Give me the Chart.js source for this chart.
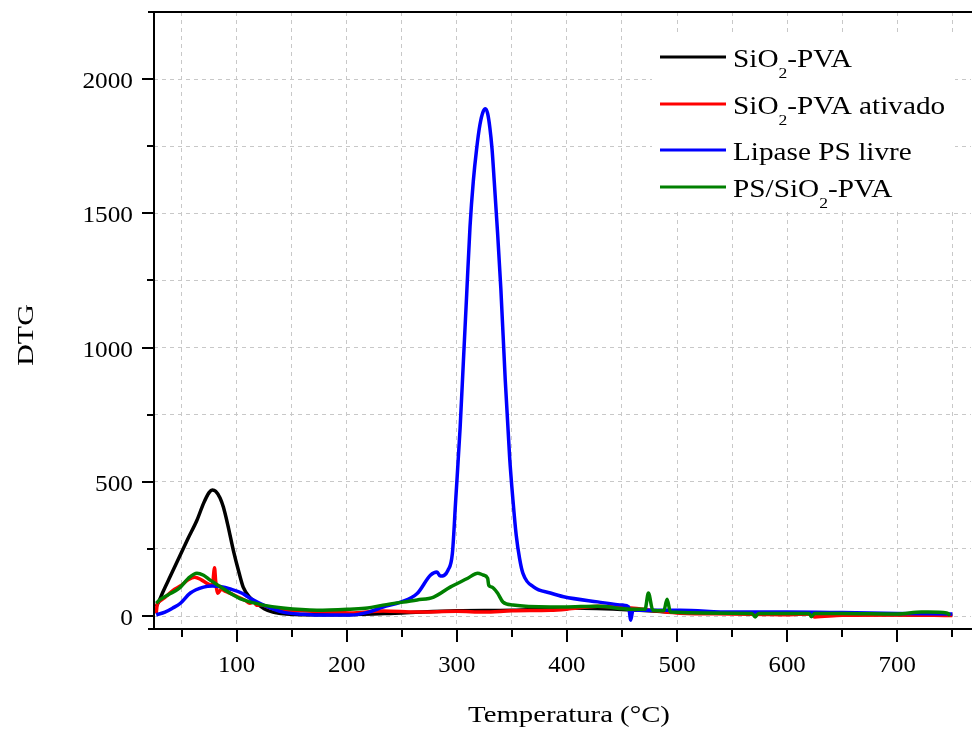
<!DOCTYPE html>
<html>
<head>
<meta charset="utf-8">
<script src="https://cdn.jsdelivr.net/npm/chart.js@4/dist/chart.umd.min.js"></script>
<style>
  html, body { margin: 0; padding: 0; background: #fff; }
  #wrap { width: 972px; height: 729px; }
</style>
</head>
<body>
<div id="wrap"><canvas id="c" width="972" height="729"></canvas></div>
<script>
// temperatures (°C) and DTG values
const tempBlack = [27, 30, 33, 40, 48, 56, 64, 70, 75, 78, 81, 85, 88, 92, 97, 102, 106, 112, 118, 125, 133, 145, 160, 200, 250, 300, 350, 400, 450, 500, 550, 600, 650, 700, 750];
const dtgBlack  = [35, 60, 89, 150, 220, 290, 357, 420, 460, 470, 465, 440, 406, 340, 246, 165, 108, 70, 48, 28, 15, 8, 5, 5, 12, 20, 22, 30, 25, 15, 12, 10, 7, 5, 3];

const tempRed = [27, 28, 30, 35, 42, 50, 56, 62, 68, 74, 78, 80, 81, 83, 86, 90, 96, 102, 108, 112, 116, 118, 122, 130, 142, 160, 203, 233, 264, 300, 325, 350, 385, 400, 428, 458, 480, 503, 549, 580, 600, 620, 625, 650, 700, 750];
const dtgRed  = [10, 45, 55, 70, 95, 115, 135, 145, 135, 120, 115, 180, 130, 85, 100, 92, 82, 70, 58, 48, 55, 40, 42, 32, 22, 20, 12, 19, 15, 18, 15, 20, 22, 26, 37, 30, 20, 11, 8, 6, 5, 8, -3, 3, 4, 2];

const tempBlue = [27, 35, 42, 49, 58, 70, 78, 85, 95, 105, 112, 125, 142, 160, 173, 203, 220, 233, 249, 264, 276, 282, 285, 292, 296, 299, 303, 306, 309, 312, 315, 318, 321, 324, 326, 328, 330, 332, 334, 337, 340, 344, 348, 351, 354, 357, 360, 370, 385, 397, 428, 451, 456, 458, 460, 464, 503, 549, 600, 650, 700, 750];
const dtgBlue  = [5, 15, 30, 48, 86, 108, 112, 110, 100, 85, 67, 40, 15, 7, 4, 4, 15, 34, 52, 84, 152, 164, 149, 171, 234, 432, 700, 950, 1200, 1450, 1620, 1740, 1830, 1880, 1890, 1872, 1820, 1740, 1620, 1430, 1220, 880, 590, 432, 300, 215, 160, 108, 86, 72, 53, 41, 35, -15, 25, 22, 22, 15, 15, 13, 10, 8];

const tempGreen = [27, 30, 38, 48, 56, 64, 70, 76, 85, 94, 105, 124, 142, 173, 203, 219, 233, 264, 279, 294, 310, 319, 324, 328, 329, 332, 337, 342, 351, 385, 397, 428, 458, 471, 474, 478, 488, 491, 494, 549, 568, 571, 574, 600, 620, 622, 625, 650, 700, 722, 728, 745, 748];
const dtgGreen  = [48, 60, 80, 104, 140, 160, 152, 134, 110, 86, 62, 41, 30, 22, 26, 30, 41, 60, 71, 108, 141, 160, 153, 141, 115, 108, 86, 52, 41, 34, 34, 37, 26, 26, 86, 22, 20, 63, 15, 11, 10, -3, 10, 10, 10, -2, 10, 10, 8, 15, 15, 12, 3];

const xTicks = [50, 100, 150, 200, 250, 300, 350, 400, 450, 500, 550, 600, 650, 700, 750];
const yTicks = [0, 250, 500, 750, 1000, 1250, 1500, 1750, 2000];

const legendItems = [
  { color: '#000000', parts: [['SiO', 0], ['2', 1], ['-PVA', 0]] },
  { color: '#ff0000', parts: [['SiO', 0], ['2', 1], ['-PVA ativado', 0]] },
  { color: '#0000ff', parts: [['Lipase PS livre', 0]] },
  { color: '#008000', parts: [['PS/SiO', 0], ['2', 1], ['-PVA', 0]] }
];

const toPoints = (xs, ys) => xs.map((x, i) => ({ x: x, y: ys[i] }));
const FONT = '"Liberation Serif", "DejaVu Serif", serif';

function series(label, xs, ys, color, order) {
  return {
    label: label,
    data: toPoints(xs, ys),
    borderColor: color,
    backgroundColor: color,
    borderWidth: 3.5,
    pointRadius: 0,
    fill: false,
    cubicInterpolationMode: 'monotone',
    order: order
  };
}

// the reference text is a bit stretched sideways, hence sx
function text(ctx, s, x, y, size, sx, align) {
  ctx.save();
  ctx.translate(x, y);
  ctx.scale(sx, 1);
  ctx.font = size + 'px ' + FONT;
  ctx.textAlign = align;
  ctx.textBaseline = 'alphabetic';
  ctx.fillText(s, 0, 0);
  ctx.restore();
}

// axes, ticks, labels and the legend are painted by hand
const decor = {
  id: 'decor',
  afterDatasetsDraw(chart) {
    const ctx = chart.ctx;
    const a = chart.chartArea;
    const xs = chart.scales.x, ys = chart.scales.y;
    ctx.save();

    // legend box
    ctx.fillStyle = '#fff';
    ctx.fillRect(652, 36, 303, 172);
    const rows = [57, 104, 150, 187];
    legendItems.forEach((it, i) => {
      const y = rows[i];
      ctx.strokeStyle = it.color;
      ctx.lineWidth = 3;
      ctx.beginPath();
      ctx.moveTo(660, y);
      ctx.lineTo(726, y);
      ctx.stroke();
      ctx.save();
      ctx.translate(733, y + 10);
      ctx.scale(1.17, 1);
      ctx.fillStyle = '#000';
      ctx.textAlign = 'left';
      ctx.textBaseline = 'alphabetic';
      let x = 0;
      it.parts.forEach(p => {
        ctx.font = (p[1] ? '15px ' : '25px ') + FONT;
        ctx.fillText(p[0], x, p[1] ? 11 : 0);
        x += ctx.measureText(p[0]).width;
      });
      ctx.restore();
    });

    // axis lines
    ctx.strokeStyle = '#000';
    ctx.lineWidth = 2;
    ctx.beginPath();
    ctx.moveTo(a.left, a.top - 1);
    ctx.lineTo(a.left, a.bottom);
    ctx.moveTo(a.left - 6, a.bottom);
    ctx.lineTo(972, a.bottom);
    ctx.moveTo(a.left - 6, a.top);
    ctx.lineTo(972, a.top);
    ctx.stroke();

    // x ticks (major every 100, minor every 50)
    ctx.beginPath();
    xTicks.forEach(v => {
      const px = Math.round(xs.getPixelForValue(v));
      const len = v % 100 === 0 ? 13 : 8;
      ctx.moveTo(px, a.bottom);
      ctx.lineTo(px, a.bottom + len);
    });
    // y ticks (major every 500, minor every 250)
    yTicks.forEach(v => {
      const py = Math.round(ys.getPixelForValue(v));
      const len = v % 500 === 0 ? 12 : 7;
      ctx.moveTo(a.left, py);
      ctx.lineTo(a.left - len, py);
    });
    ctx.stroke();

    // tick labels
    ctx.fillStyle = '#000';
    xTicks.filter(v => v % 100 === 0).forEach(v => {
      text(ctx, String(v), xs.getPixelForValue(v), 672, 23, 1.08, 'center');
    });
    yTicks.filter(v => v % 500 === 0).forEach(v => {
      text(ctx, String(v), 133, ys.getPixelForValue(v) + 9, 23, 1.1, 'right');
    });

    // axis titles
    text(ctx, 'Temperatura (°C)', 569, 722, 23, 1.25, 'center');
    ctx.save();
    ctx.translate(33, 335);
    ctx.rotate(-Math.PI / 2);
    text(ctx, 'DTG', 0, 0, 23, 1.3, 'center');
    ctx.restore();
    ctx.restore();
  }
};

new Chart(document.getElementById('c'), {
  type: 'line',
  data: {
    datasets: [
      series('PS/SiO2-PVA', tempGreen, dtgGreen, '#008000', 0),
      series('Lipase PS livre', tempBlue, dtgBlue, '#0000ff', 1),
      series('SiO2-PVA ativado', tempRed, dtgRed, '#ff0000', 2),
      series('SiO2-PVA', tempBlack, dtgBlack, '#000000', 3)
    ]
  },
  options: {
    responsive: false,
    animation: false,
    layout: { padding: { left: 0, top: 12, right: 1, bottom: 0 } },
    plugins: { legend: { display: false }, tooltip: { enabled: false } },
    scales: {
      x: {
        type: 'linear',
        min: 25,
        max: 767,
        afterBuildTicks: s => { s.ticks = xTicks.map(v => ({ value: v })); },
        afterFit: s => { s.height = 100; s.paddingLeft = 0; s.paddingRight = 0; },
        grid: { color: '#c8c8c8', lineWidth: 1, drawTicks: false },
        border: { display: false, dash: [4, 4] },
        ticks: { display: false }
      },
      y: {
        min: -48,
        max: 2250,
        afterBuildTicks: s => { s.ticks = yTicks.map(v => ({ value: v })); },
        afterFit: s => { s.width = 154; s.paddingTop = 0; s.paddingBottom = 0; },
        grid: { color: '#c8c8c8', lineWidth: 1, drawTicks: false },
        border: { display: false, dash: [4, 4] },
        ticks: { display: false }
      }
    }
  },
  plugins: [decor]
});
</script>
</body>
</html>
